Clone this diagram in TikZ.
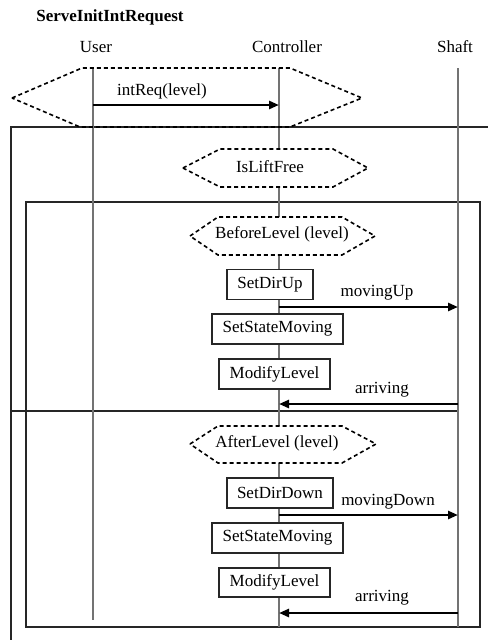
\documentclass[tikz,border=0pt]{standalone}
\usepackage{fontspec}
\setmainfont{Liberation Serif}
\usetikzlibrary{arrows.meta}
\begin{document}
\begin{tikzpicture}[x=1pt,y=-1pt,
  every node/.style={font=\fontsize{17}{20}\selectfont, inner sep=0pt},
  lifeline/.style={draw=black!55, line width=1.7pt},
  frame/.style={draw=black!85, line width=1.2pt},
  hexa/.style={draw=black, line width=1.6pt, dash pattern=on 4pt off 3pt},
  actbox/.style={draw=black!85, fill=white, line width=1.1pt, minimum height=30pt},
  msg/.style={line width=2.6pt, -{Triangle[length=10pt,width=8pt]}},
  msglabel/.style={anchor=center}]
\useasboundingbox (0,0) rectangle (488,640);

% title and lifeline heads
\node[font=\fontsize{17}{20}\selectfont\bfseries] (title) at (110,17) {ServeInitIntRequest};
\node (user) at (96,47) {User};
\node (ctrl) at (287,47) {Controller};
\node (shaft) at (455,47) {Shaft};

% lifeline ends
\coordinate (userTop) at (93,68);
\coordinate (userEnd) at (93,620);
\coordinate (ctrlTop) at (279,68);
\coordinate (ctrlEnd) at (279,627);
\coordinate (shaftTop) at (458,68);
\coordinate (shaftEnd) at (458,627);

% combined fragment frames
\draw[frame] (11,640) -- (11,127) -- (488,127);
\draw[frame] (26,202) rectangle (480,627);
\draw[frame] (11,411) -- (458,411);

% lifelines
\draw[lifeline] (userTop) -- (userEnd);
\draw[lifeline] (ctrlTop) -- (ctrlEnd);
\draw[lifeline] (shaftTop) -- (shaftEnd);

% guard hexagons
\draw[hexa] (12,98) -- (82,68) -- (290,68) -- (362,98) -- (290,127) -- (80,127) -- cycle;
\draw[hexa, fill=white] (183,168) -- (220,149) -- (333,149) -- (368,168) -- (333,187) -- (220,187) -- cycle;
\node (free) at (270,167) {IsLiftFree};
\draw[hexa, fill=white] (190,236) -- (218,217) -- (342,217) -- (375,236) -- (342,255) -- (218,255) -- cycle;
\node (before) at (282,234) {BeforeLevel (level)};
\draw[hexa, fill=white] (190,444) -- (218,426) -- (342,426) -- (376,444) -- (342,463) -- (218,463) -- cycle;
\node (after) at (277,443) {AfterLevel (level)};

% actions
\node[actbox, minimum width=86pt] (dirup) at (270,284.5) {SetDirUp};
\node[actbox, minimum width=131pt] (state1) at (277.5,329) {SetStateMoving};
\node[actbox, minimum width=111pt] (mod1) at (274.5,374) {ModifyLevel};
\node[actbox, minimum width=106pt] (dirdown) at (280,493) {SetDirDown};
\node[actbox, minimum width=131pt] (state2) at (277.5,538) {SetStateMoving};
\node[actbox, minimum width=111pt, minimum height=29pt] (mod2) at (274.5,582.5) {ModifyLevel};

% messages
\coordinate (reqS) at (93,105);   \coordinate (reqE) at (279,105);
\coordinate (upS) at (279,307);   \coordinate (upE) at (458,307);
\coordinate (arrS) at (458,404);  \coordinate (arrE) at (279,404);
\coordinate (dnS) at (279,515);   \coordinate (dnE) at (458,515);
\coordinate (arr2S) at (458,613); \coordinate (arr2E) at (279,613);

\draw[msg] (reqS) -- (reqE);
\node[msglabel] (reqL) at (162,91) {intReq(level)};
\draw[msg] (upS) -- (upE);
\node[msglabel] (upL) at (377,293) {movingUp};
\draw[msg] (arrS) -- (arrE);
\node[msglabel] (arrL) at (382,390) {arriving};
\draw[msg] (dnS) -- (dnE);
\node[msglabel] (dnL) at (388,502) {movingDown};
\draw[msg] (arr2S) -- (arr2E);
\node[msglabel] (arr2L) at (382,598) {arriving};
\end{tikzpicture}
\end{document}
